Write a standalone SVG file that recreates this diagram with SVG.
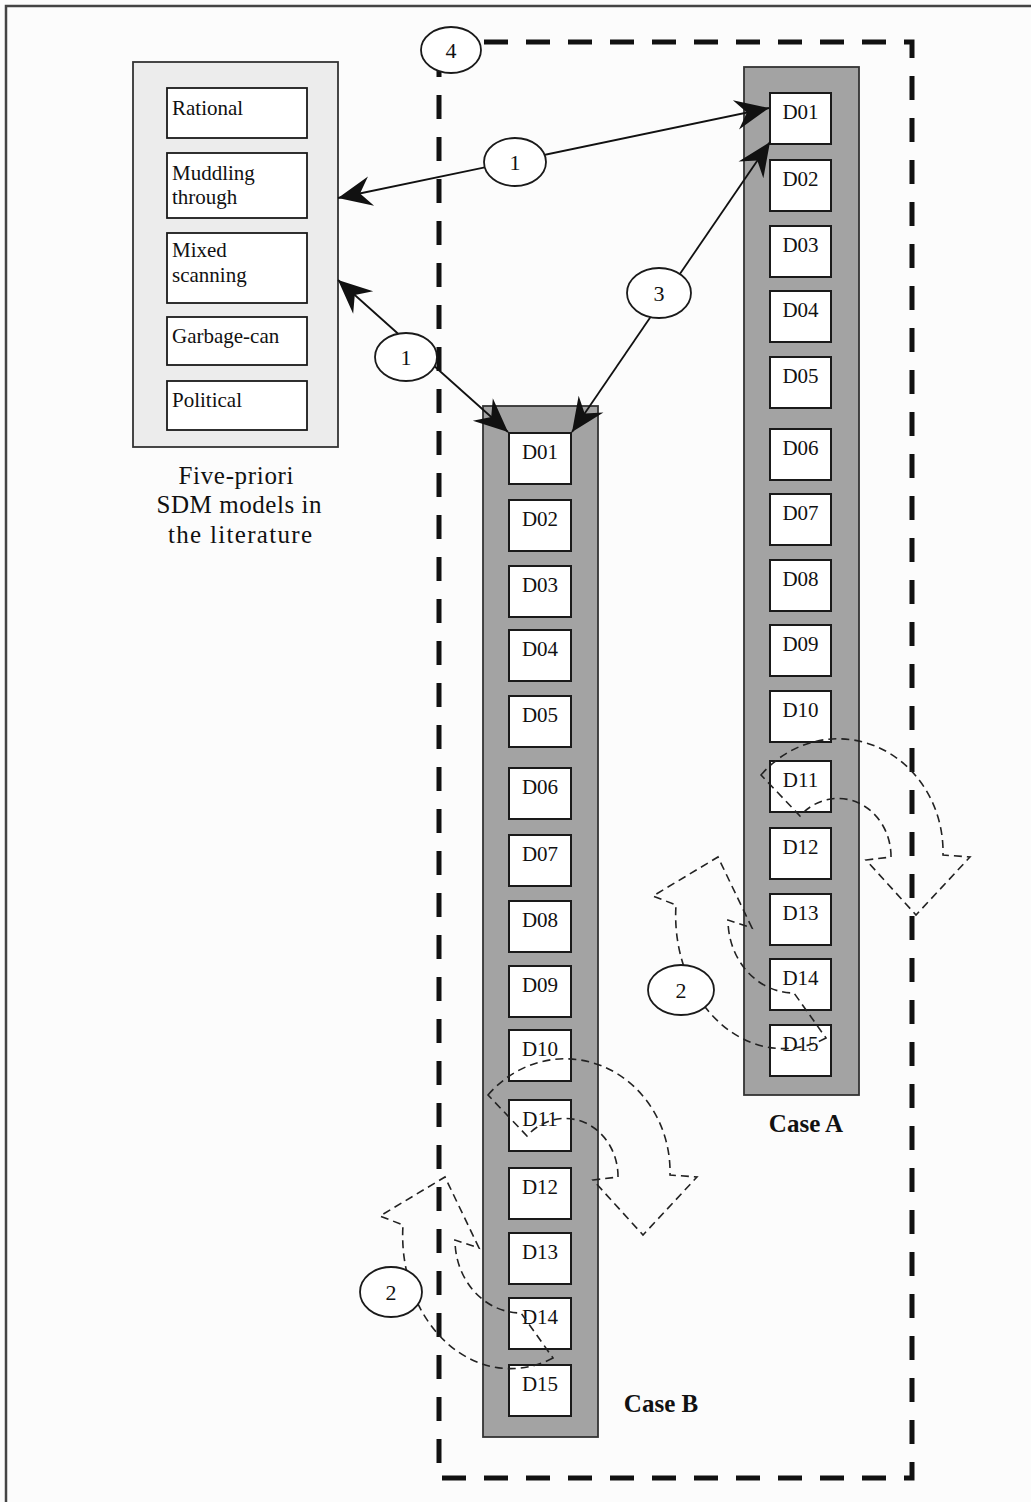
<svg xmlns="http://www.w3.org/2000/svg" width="1031" height="1502" viewBox="0 0 1031 1502">
<style>
  text { font-family: "Liberation Serif", "Times New Roman", serif; fill: #111; }
  .mt { font-size: 21px; }
  .dl { font-size: 21px; text-anchor: middle; }
  .cap { font-size: 25px; text-anchor: middle; }
  .case { font-size: 25px; font-weight: bold; text-anchor: middle; }
  .num { font-size: 22px; text-anchor: middle; }
  .col { fill: #a3a3a3; stroke: #333; stroke-width: 1.8; }
  .d { fill: #fff; stroke: #1a1a1a; stroke-width: 2; }
  .mbox { fill: #fff; stroke: #1a1a1a; stroke-width: 1.8; }
  .lbl { fill: #fff; stroke: #1a1a1a; stroke-width: 1.8; }
  .link { stroke: #111; stroke-width: 1.8; fill: none; marker-start: url(#ah); marker-end: url(#ah); }
  .curl { fill: none; stroke: #222; stroke-width: 1.6; stroke-dasharray: 8 5; }
</style>
<defs>
  <marker id="ah" markerUnits="userSpaceOnUse" markerWidth="40" markerHeight="40" viewBox="-30 -15 32 30" refX="0" refY="0" orient="auto-start-reverse">
    <path d="M0,0 L-27,-12 L-18,0 L-27,12 Z" fill="#111"/>
  </marker>
  <path id="curlR" d="M488,1095 A105,113 0 0 1 670,1175 L697,1177 L643,1235 L593,1180 L618,1177 A53,58 0 0 0 527,1136 Z"/>
  <path id="curlL" d="M553,1358 A108,133 0 0 1 403,1225 L380,1216 L445,1177 L479,1248 L455,1240 A66,73 0 0 0 521,1313 Z"/>
</defs>
<rect x="0" y="0" width="1031" height="1502" fill="#fcfcfc"/>
<rect x="6" y="6" width="1100" height="1600" fill="none" stroke="#444" stroke-width="2.5"/>

<g id="scope4">
  <path d="M484,42 H912 V1478 H439 V42" fill="none" stroke="#111" stroke-width="5" stroke-dasharray="24 18"/>
</g>

<g id="models">
  <rect x="133" y="62" width="205" height="385" fill="#ececec" stroke="#333" stroke-width="1.8"/>
  <g id="m-rational"><rect class="mbox" x="167" y="88" width="140" height="50"/><text class="mt" x="172" y="115">Rational</text></g>
  <g id="m-muddling"><rect class="mbox" x="167" y="153" width="140" height="65"/><text class="mt" x="172" y="180">Muddling</text><text class="mt" x="172" y="204">through</text></g>
  <g id="m-mixed"><rect class="mbox" x="167" y="233" width="140" height="70"/><text class="mt" x="172" y="257">Mixed</text><text class="mt" x="172" y="282">scanning</text></g>
  <g id="m-garbage"><rect class="mbox" x="167" y="317" width="140" height="48"/><text class="mt" x="172" y="343">Garbage-can</text></g>
  <g id="m-political"><rect class="mbox" x="167" y="381" width="140" height="49"/><text class="mt" x="172" y="407">Political</text></g>
  <text class="cap" x="236" y="484" textLength="115">Five-priori</text>
  <text class="cap" x="239" y="513" textLength="165">SDM models in</text>
  <text class="cap" x="240" y="543" textLength="144">the literature</text>
</g>

<g id="caseA">
  <rect class="col" x="744" y="67" width="115" height="1028"/>
  <g id="A-D01"><rect class="d" x="770" y="93" width="61" height="51"/><text class="dl" x="800.5" y="119">D01</text></g>
  <g id="A-D02"><rect class="d" x="770" y="160" width="61" height="51"/><text class="dl" x="800.5" y="186">D02</text></g>
  <g id="A-D03"><rect class="d" x="770" y="226" width="61" height="51"/><text class="dl" x="800.5" y="252">D03</text></g>
  <g id="A-D04"><rect class="d" x="770" y="291" width="61" height="51"/><text class="dl" x="800.5" y="317">D04</text></g>
  <g id="A-D05"><rect class="d" x="770" y="357" width="61" height="51"/><text class="dl" x="800.5" y="383">D05</text></g>
  <g id="A-D06"><rect class="d" x="770" y="429" width="61" height="51"/><text class="dl" x="800.5" y="455">D06</text></g>
  <g id="A-D07"><rect class="d" x="770" y="494" width="61" height="51"/><text class="dl" x="800.5" y="520">D07</text></g>
  <g id="A-D08"><rect class="d" x="770" y="560" width="61" height="51"/><text class="dl" x="800.5" y="586">D08</text></g>
  <g id="A-D09"><rect class="d" x="770" y="625" width="61" height="51"/><text class="dl" x="800.5" y="651">D09</text></g>
  <g id="A-D10"><rect class="d" x="770" y="691" width="61" height="51"/><text class="dl" x="800.5" y="717">D10</text></g>
  <g id="A-D11"><rect class="d" x="770" y="761" width="61" height="51"/><text class="dl" x="800.5" y="787">D11</text></g>
  <g id="A-D12"><rect class="d" x="770" y="828" width="61" height="51"/><text class="dl" x="800.5" y="854">D12</text></g>
  <g id="A-D13"><rect class="d" x="770" y="894" width="61" height="51"/><text class="dl" x="800.5" y="920">D13</text></g>
  <g id="A-D14"><rect class="d" x="770" y="959" width="61" height="51"/><text class="dl" x="800.5" y="985">D14</text></g>
  <g id="A-D15"><rect class="d" x="770" y="1025" width="61" height="51"/><text class="dl" x="800.5" y="1051">D15</text></g>
  <text class="case" x="806" y="1132">Case A</text>
</g>

<g id="caseB">
  <rect class="col" x="483" y="406" width="115" height="1031"/>
  <g id="B-D01"><rect class="d" x="509" y="433" width="62" height="51"/><text class="dl" x="540" y="459">D01</text></g>
  <g id="B-D02"><rect class="d" x="509" y="500" width="62" height="51"/><text class="dl" x="540" y="526">D02</text></g>
  <g id="B-D03"><rect class="d" x="509" y="566" width="62" height="51"/><text class="dl" x="540" y="592">D03</text></g>
  <g id="B-D04"><rect class="d" x="509" y="630" width="62" height="51"/><text class="dl" x="540" y="656">D04</text></g>
  <g id="B-D05"><rect class="d" x="509" y="696" width="62" height="51"/><text class="dl" x="540" y="722">D05</text></g>
  <g id="B-D06"><rect class="d" x="509" y="768" width="62" height="51"/><text class="dl" x="540" y="794">D06</text></g>
  <g id="B-D07"><rect class="d" x="509" y="835" width="62" height="51"/><text class="dl" x="540" y="861">D07</text></g>
  <g id="B-D08"><rect class="d" x="509" y="901" width="62" height="51"/><text class="dl" x="540" y="927">D08</text></g>
  <g id="B-D09"><rect class="d" x="509" y="966" width="62" height="51"/><text class="dl" x="540" y="992">D09</text></g>
  <g id="B-D10"><rect class="d" x="509" y="1030" width="62" height="51"/><text class="dl" x="540" y="1056">D10</text></g>
  <g id="B-D11"><rect class="d" x="509" y="1100" width="62" height="51"/><text class="dl" x="540" y="1126">D11</text></g>
  <g id="B-D12"><rect class="d" x="509" y="1168" width="62" height="51"/><text class="dl" x="540" y="1194">D12</text></g>
  <g id="B-D13"><rect class="d" x="509" y="1233" width="62" height="51"/><text class="dl" x="540" y="1259">D13</text></g>
  <g id="B-D14"><rect class="d" x="509" y="1298" width="62" height="51"/><text class="dl" x="540" y="1324">D14</text></g>
  <g id="B-D15"><rect class="d" x="509" y="1365" width="62" height="51"/><text class="dl" x="540" y="1391">D15</text></g>
  <text class="case" x="661" y="1412">Case B</text>
</g>

<g id="connectors">
  <line class="link" x1="338" y1="198" x2="769" y2="108"/>
  <line class="link" x1="338" y1="280" x2="508" y2="432"/>
  <line class="link" x1="770" y1="142" x2="572" y2="432"/>
  <use href="#curlR" class="curl"/>
  <use href="#curlL" class="curl"/>
  <use href="#curlR" class="curl" transform="translate(273,-320)"/>
  <use href="#curlL" class="curl" transform="translate(273,-320)"/>
</g>

<g id="label-4"><ellipse class="lbl" cx="451" cy="50" rx="30" ry="23"/><text class="num" x="451" y="58">4</text></g>
<g id="label-1a"><ellipse class="lbl" cx="515" cy="162" rx="31" ry="24"/><text class="num" x="515" y="170">1</text></g>
<g id="label-1b"><ellipse class="lbl" cx="406" cy="357" rx="31" ry="24"/><text class="num" x="406" y="365">1</text></g>
<g id="label-3"><ellipse class="lbl" cx="659" cy="293" rx="32" ry="25"/><text class="num" x="659" y="301">3</text></g>
<g id="label-2a"><ellipse class="lbl" cx="681" cy="990" rx="33" ry="25"/><text class="num" x="681" y="998">2</text></g>
<g id="label-2b"><ellipse class="lbl" cx="391" cy="1292" rx="31" ry="25"/><text class="num" x="391" y="1300">2</text></g>
</svg>
